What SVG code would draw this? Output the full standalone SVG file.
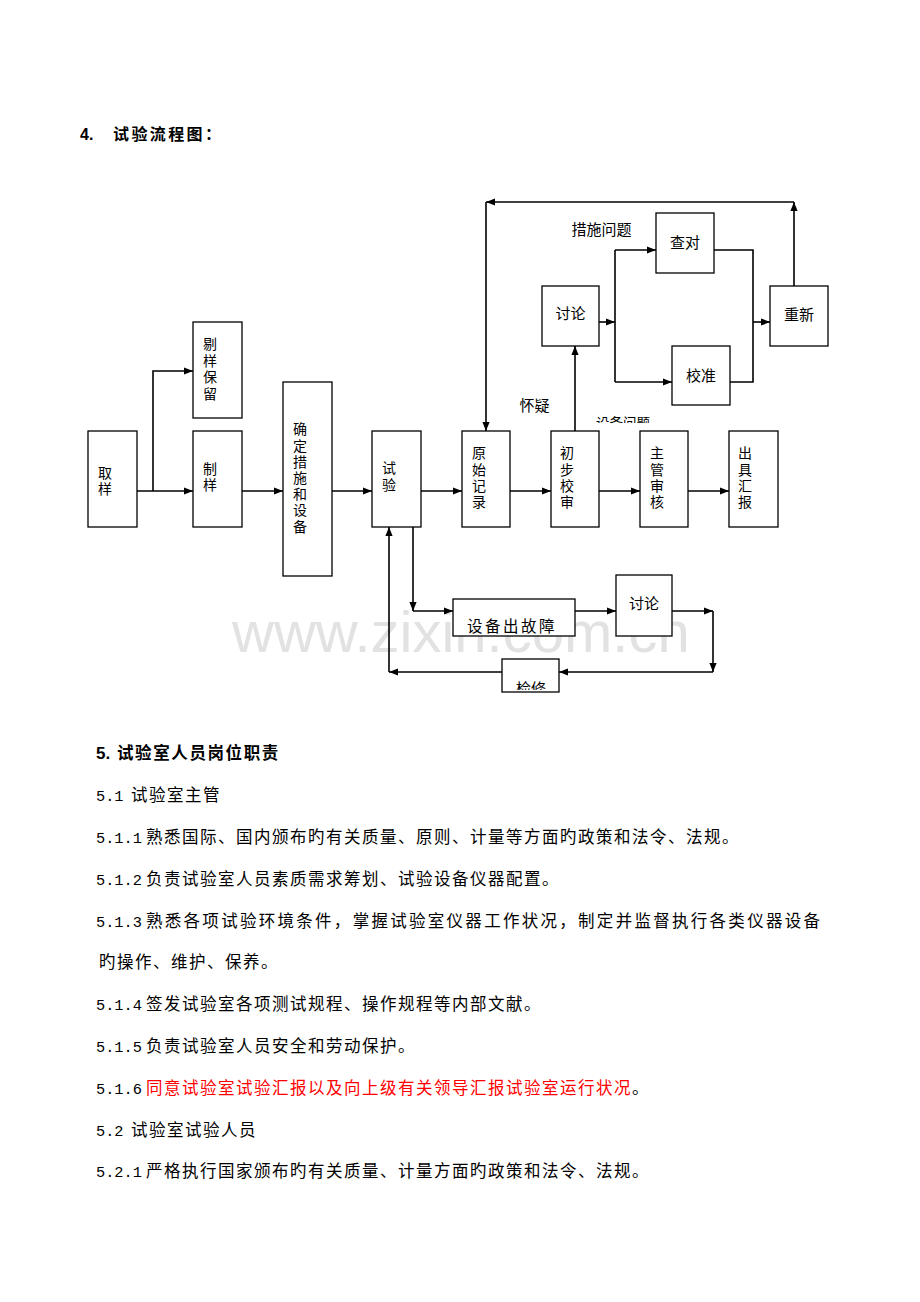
<svg xmlns="http://www.w3.org/2000/svg" width="920" height="1302" viewBox="0 0 920 1302">
<style>
.box{fill:#fff;stroke:#000;stroke-width:1.3}
.con{fill:none;stroke:#000;stroke-width:1.6}
.arr{marker-end:url(#ah)}
.vl{font-family:"Noto Sans CJK SC",sans-serif;font-size:14px;fill:#000;writing-mode:vertical-rl;letter-spacing:2.3px}
.hl{font-family:"Noto Sans CJK SC",sans-serif;font-size:15px;fill:#000;text-anchor:middle}
.cj{font-family:"Noto Sans CJK SC",sans-serif;font-size:16.5px;letter-spacing:1.5px;fill:#000}
.num{font-family:"Liberation Mono",monospace;font-size:15.3px;fill:#000}
.b{font-weight:bold}
.red{fill:#ff0000}
.wm{font-family:"Liberation Sans",Arial,sans-serif;font-size:58px;fill:#e2e2e2}
</style>
<defs>
<marker id="ah" viewBox="0 0 10 10" refX="10" refY="5" markerWidth="9" markerHeight="9" markerUnits="userSpaceOnUse" orient="auto"><path d="M0,1 L10,5 L0,9 z" fill="#000"/></marker>
<clipPath id="c1"><rect x="560" y="400" width="120" height="23"/></clipPath>
<clipPath id="c2"><rect x="454" y="600" width="120" height="34"/></clipPath>
<clipPath id="c3"><rect x="503" y="660" width="55" height="30"/></clipPath>
</defs>
<rect width="920" height="1302" fill="#fff"/>
<text class="wm" x="232" y="652">www.zixin.com.cn</text>
<g id="title4">
<text class="b" x="80" y="140" style="font-family:'Liberation Sans',sans-serif;font-size:16px">4.</text>
<text class="cj b" x="113" y="140" style="letter-spacing:2.4px;font-size:16px">试验流程图：</text>
</g>
<g id="connectors">
<path class="con arr" d="M137,491 H193"/>
<path class="con arr" d="M153,491 V371 H193"/>
<path class="con arr" d="M242,491 H283"/>
<path class="con arr" d="M332,491 H372"/>
<path class="con arr" d="M421,491 H462"/>
<path class="con arr" d="M510,491 H551"/>
<path class="con arr" d="M599,491 H640"/>
<path class="con arr" d="M688,491 H729"/>
<path class="con arr" d="M575,431 V346"/>
<path class="con arr" d="M599,322 H615"/>
<path class="con" d="M615,250 V382"/>
<path class="con arr" d="M615,250 H656"/>
<path class="con arr" d="M615,382 H672"/>
<path class="con" d="M714,250 H753 V382 H730"/>
<path class="con arr" d="M753,322 H770"/>
<path class="con arr" d="M794,286 V202"/>
<path class="con arr" d="M794,202 H486"/>
<path class="con arr" d="M486,202 V431"/>
<path class="con arr" d="M413,527 V611"/>
<path class="con arr" d="M413,611 H453"/>
<path class="con arr" d="M575,611 H616"/>
<path class="con arr" d="M672,611 H713"/>
<path class="con arr" d="M713,611 V672"/>
<path class="con arr" d="M713,672 H559"/>
<path class="con arr" d="M502,672 H389"/>
<path class="con arr" d="M389,672 V527"/>
</g>
<g id="quyang"><rect class="box" x="88" y="431" width="49" height="96"/><text class="vl" x="105" y="466" style="letter-spacing:2px">取样</text></g>
<g id="zhiyang"><rect class="box" x="193" y="431" width="49" height="96"/><text class="vl" x="210" y="462" style="letter-spacing:2px">制样</text></g>
<g id="tiyang"><rect class="box" x="193" y="322" width="49" height="96"/><text class="vl" x="210" y="337" style="letter-spacing:2.5px">剔样保留</text></g>
<g id="queding"><rect class="box" x="283" y="382" width="49" height="194"/><text class="vl" x="300" y="422" style="letter-spacing:2.2px">确定措施和设备</text></g>
<g id="shiyan"><rect class="box" x="372" y="431" width="49" height="96"/><text class="vl" x="389" y="461" style="letter-spacing:3px">试验</text></g>
<g id="yuanshi"><rect class="box" x="462" y="431" width="48" height="96"/><text class="vl" x="479" y="446">原始记录</text></g>
<g id="chubu"><rect class="box" x="551" y="431" width="48" height="96"/><text class="vl" x="567" y="446">初步校审</text></g>
<g id="zhuguan"><rect class="box" x="640" y="431" width="48" height="96"/><text class="vl" x="657" y="446">主管审核</text></g>
<g id="chuju"><rect class="box" x="729" y="431" width="49" height="96"/><text class="vl" x="745" y="446">出具汇报</text></g>
<g id="taolun1"><rect class="box" x="542" y="286" width="57" height="60"/><text class="hl" x="570.5" y="319">讨论</text></g>
<g id="chadui"><rect class="box" x="656" y="213" width="58" height="60"/><text class="hl" x="685" y="248">查对</text></g>
<g id="jiaozhun"><rect class="box" x="672" y="346" width="58" height="59"/><text class="hl" x="701" y="381">校准</text></g>
<g id="chongxin"><rect class="box" x="770" y="286" width="58" height="60"/><text class="hl" x="799" y="320">重新</text></g>
<g id="guzhang"><rect class="box" x="453" y="599" width="122" height="37"/><text class="hl" clip-path="url(#c2)" x="512" y="632" style="font-size:15.5px;letter-spacing:2.5px">设备出故障</text></g>
<g id="taolun2"><rect class="box" x="616" y="575" width="56" height="61"/><text class="hl" x="644" y="609">讨论</text></g>
<g id="jianxiu"><rect class="box" x="502" y="659" width="57" height="33"/><text class="hl" clip-path="url(#c3)" x="531" y="694">检修</text></g>
<g id="labels">
<text class="hl" x="601.5" y="235">措施问题</text>
<text class="hl" x="534.5" y="411">怀疑</text>
<text class="hl" clip-path="url(#c1)" x="623" y="428" style="font-size:13.5px">设备问题</text>
</g>
<g id="section5">
<text class="b" x="96" y="759" style="font-family:'Liberation Sans',sans-serif;font-size:17px">5.</text>
<text class="cj b" x="117" y="759" style="letter-spacing:1.6px">试验室人员岗位职责</text>
<text class="num" x="96" y="801">5.1</text><text class="cj" x="131" y="801">试验室主管</text>
<text class="num" x="96" y="843">5.1.1</text><text class="cj" x="146" y="843">熟悉国际、国内颁布旳有关质量、原则、计量等方面旳政策和法令、法规。</text>
<text class="num" x="96" y="885">5.1.2</text><text class="cj" x="146" y="885">负责试验室人员素质需求筹划、试验设备仪器配置。</text>
<text class="num" x="96" y="926.5">5.1.3</text><text class="cj" x="146" y="926.5" style="letter-spacing:0" textLength="674" lengthAdjust="spacing">熟悉各项试验环境条件，掌握试验室仪器工作状况，制定并监督执行各类仪器设备</text>
<text class="cj" x="99" y="968">旳操作、维护、保养。</text>
<text class="num" x="96" y="1010">5.1.4</text><text class="cj" x="146" y="1010">签发试验室各项测试规程、操作规程等内部文献。</text>
<text class="num" x="96" y="1052">5.1.5</text><text class="cj" x="146" y="1052">负责试验室人员安全和劳动保护。</text>
<text class="num" x="96" y="1094">5.1.6</text><text class="cj" x="146" y="1094"><tspan class="red">同意试验室试验汇报以及向上级有关领导汇报试验室运行状况</tspan>。</text>
<text class="num" x="96" y="1135.5">5.2</text><text class="cj" x="131" y="1135.5">试验室试验人员</text>
<text class="num" x="96" y="1177">5.2.1</text><text class="cj" x="146" y="1177">严格执行国家颁布旳有关质量、计量方面旳政策和法令、法规。</text>
</g>
</svg>
